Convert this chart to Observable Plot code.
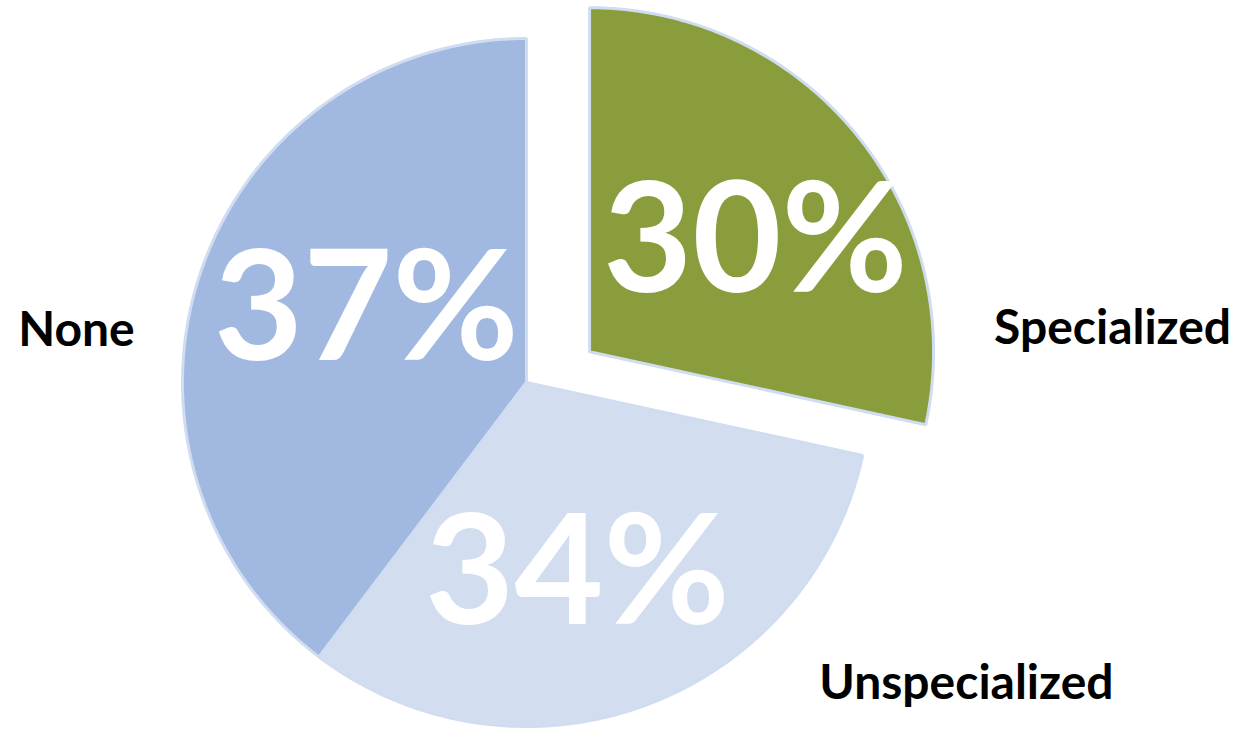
<!DOCTYPE html>
<html><head><meta charset="utf-8">
<script src="https://cdn.jsdelivr.net/npm/d3@7"></script>
<script src="https://cdn.jsdelivr.net/npm/@observablehq/plot@0.6"></script>
<style>html,body{margin:0;padding:0;background:#fff;} #chart svg{display:block;}</style>
</head><body><div id="chart"></div>
<script>
// Data (slice sizes as drawn, clockwise from 12 o'clock) and their printed labels
const categories = ["Specialized", "Unspecialized", "None"];
const shares = [28.4, 31.9, 39.7];
const pctLabels = ["30%", "34%", "37%"];

// Styles / layout (kept apart from the data)
const fills = {Specialized: "#899D3C", Unspecialized: "#D2DEF0", None: "#A1B8E1"};
const exploded = {Specialized: {angle: 64, dist: 0.204}};
const innerRadius = {Specialized: 0.577, Unspecialized: 0.577, None: 0.51};
const outerLayout = {
  None: {angle: 276.6, r: 1.317},
  Specialized: {angle: 84.7, r: 1.711},
  Unspecialized: {angle: 124.4, r: 1.55}
};
const W = 1255, H = 732, cx = 526, cy = 382, R = 344;
const FONT = "Lato, 'Open Sans', sans-serif";

const rad = d => d * Math.PI / 180;
const total = d3.sum(shares);
let acc = 0;
const slices = categories.map((c, i) => {
  const a0 = acc / total * 360; acc += shares[i]; const a1 = acc / total * 360;
  const e = exploded[c];
  const ox = e ? e.dist * Math.sin(rad(e.angle)) : 0;
  const oy = e ? e.dist * Math.cos(rad(e.angle)) : 0;
  const mid = (a0 + a1) / 2 + 5.5;
  const o = outerLayout[c];
  const lr = innerRadius[c];
  return {
    category: c, label: pctLabels[i], a0, a1, ox, oy,
    lx: ox + lr * Math.sin(rad(mid)), ly: oy + lr * Math.cos(rad(mid)),
    tx: o.r * Math.sin(rad(o.angle)), ty: o.r * Math.cos(rad(o.angle))
  };
});

function polygon(s) {
  const p = [{x: s.ox, y: s.oy}];
  const n = Math.ceil((s.a1 - s.a0) * 2);
  for (let k = 0; k <= n; k++) {
    const a = rad(s.a0 + (s.a1 - s.a0) * k / n);
    p.push({x: s.ox + Math.sin(a), y: s.oy + Math.cos(a)});
  }
  p.push({x: s.ox, y: s.oy});
  return p;
}

const drawOrder = ["None", "Unspecialized", "Specialized"];
const sliceMarks = drawOrder.map(c => {
  const s = slices.find(d => d.category === c);
  return Plot.line(polygon(s), {
    x: "x", y: "y", fill: fills[c], stroke: "#D0DCF0", strokeWidth: 3,
    strokeLinejoin: "miter", curve: "linear"
  });
});

const chart = Plot.plot({
  width: W, height: H,
  marginTop: 0, marginRight: 0, marginBottom: 0, marginLeft: 0,
  x: {domain: [-1, 1], range: [cx - R, cx + R], axis: null},
  y: {domain: [-1, 1], range: [cy + R, cy - R], axis: null},
  style: {background: "#fff", overflow: "visible"},
  marks: [
    ...sliceMarks,
    Plot.text(slices, {x: "lx", y: "ly", text: "label", fill: "white",
      fontSize: 154, fontWeight: 700, fontFamily: FONT,
      textAnchor: "middle", lineAnchor: "middle"}),
    Plot.text(slices, {x: "tx", y: "ty", text: "category", fill: "black",
      fontSize: 48, fontWeight: 700, fontFamily: FONT,
      textAnchor: "middle", lineAnchor: "middle"})
  ]
});
document.getElementById("chart").appendChild(chart);
</script>
</body></html>
